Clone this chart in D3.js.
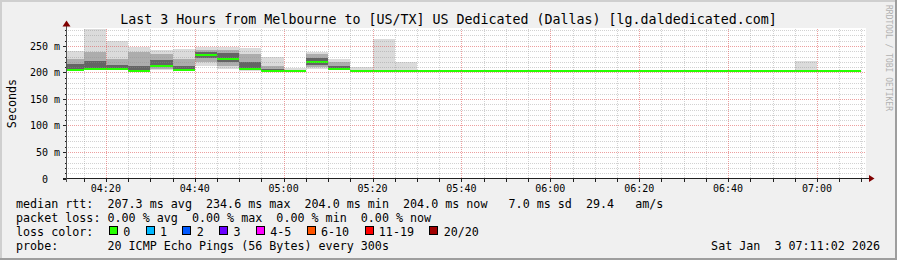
<!DOCTYPE html>
<html><head><meta charset="utf-8">
<script src="https://cdn.jsdelivr.net/npm/d3@7"></script>
<style>
body{margin:0;background:#f0f0f0}
svg{display:block}
text{font-family:"DejaVu Sans Mono",monospace;white-space:pre}
</style>
</head><body>
<svg id="c" width="897" height="260"></svg>
<script>
// ---------- data ----------
const title = "Last 3 Hours from Melbourne to [US/TX] US Dedicated (Dallas) [lg.daldedicated.com]";
const startTime = Date.UTC(2026, 0, 3, 4, 11, 2);
const endTime   = Date.UTC(2026, 0, 3, 7, 11, 2);
const firstColumnEnd = Date.UTC(2026, 0, 3, 4, 15, 0);
const stepSeconds = 300;
const F = 204; // flat ping value after 05:30
// ping ranks (of 20 sorted pings per 5-minute step), in ms
const pingMin = [203,204,205,204,204,204,212,206,203,202.5,203,206,204,203,203,203, F-0.2,F-0.2,F-0.2,F-0.2,F-0.2,F-0.2,F-0.2,F-0.2,F-0.2,F-0.2,F-0.2,F-0.2,F-0.2,F-0.2,F-0.2,F-0.2,F-0.2,F-0.2,F-0.2,F-0.2];
const ping3   = [204.5,205.5,206,204.5,206,205,220,212,205,203,203.5,210,205,203.5,203.5,203.5, F,F,F,F,F,F,F,F,F,F,F,F,F,F,F,F,F,F,F,F];
const ping7   = [206,207,207,205,210,206,228,220,207,203.5,204,215,206,204,204,204, F,F,F,F,F,F,F,F,F,F,F,F,F,F,F,F,F,F,F,F];
const median  = [207,208.5,208.5,205.3,215,207,234.6,228,209,204,204,221,208,204,204,204, F,F,F,F,F,F,F,F,F,F,F,F,F,F,F,F,F,F,F,F];
const ping14  = [216,222,214,213,224,212,238,236,220,207,204.5,228,213,204.5,204.5,204.5, F,F,F,F,F,F,F,F,F,F,F,F,F,F,F,F,F,F,F,F];
const ping18  = [226,238,226,238,235,226,243,242,235,213,205,234,219,205.5,205,205, F,F,F,F,F,F,F,F,F,F,F,F,F,F,F,F,F,F,F,F];
const pingMax = [240,283,260,248,243,244,249,248,247,229,209,239,226,210,263,219, 205,205,205,205,205,205,205,205,205,205,205,205,205,205,205,205,205,221,205,205];

const yMajorStep = 50, yMinorStep = 10;
const xMajorMinutes = 20, xMinorMinutes = 5;

const legendMedian = "median rtt:  207.3 ms avg  234.6 ms max  204.0 ms min  204.0 ms now   7.0 ms sd  29.4   am/s";
const legendLoss   = "packet loss: 0.00 % avg  0.00 % max  0.00 % min  0.00 % now";
const legendColorTitle = "loss color:";
const lossLabels = ["0","1","2","3","4-5","6-10","11-19","20/20"];
const lossColors = ["#26ff00","#00b8ff","#0059ff","#6a00ff","#ff00ff","#ff5500","#ff0000","#a00000"];
const legendProbe  = "probe:       20 ICMP Echo Pings (56 Bytes) every 300s";
const dateText = "Sat Jan  3 07:11:02 2026";
const yLabel = "Seconds";
const watermark = "RRDTOOL / TOBI OETIKER";

// ---------- drawing ----------
const W = 897, H = 260;
const P = {l: 66, r: 866, t: 28.5, b: 178.5};
const svg = d3.select("#c");

const x = d3.scaleUtc().domain([startTime, endTime]).range([P.l, P.r]);
const y = d3.scaleLinear().domain([0, d3.max(pingMax)]).range([P.b, P.t]);

svg.append("rect").attr("width", W).attr("height", H).attr("fill", "#f0f0f0");
svg.append("rect").attr("x", 0).attr("y", 0).attr("width", W).attr("height", 2).attr("fill", "#cfcfcf");
svg.append("rect").attr("x", 0).attr("y", 0).attr("width", 2).attr("height", H).attr("fill", "#cfcfcf");
svg.append("rect").attr("x", 0).attr("y", H - 2).attr("width", W).attr("height", 2).attr("fill", "#9e9e9e");
svg.append("rect").attr("x", W - 2).attr("y", 0).attr("width", 2).attr("height", H).attr("fill", "#9e9e9e");

// canvas
svg.append("rect").attr("x", P.l).attr("y", Math.floor(P.t))
  .attr("width", P.r - P.l).attr("height", Math.floor(P.b) - Math.floor(P.t)).attr("fill", "#ffffff");

// columns
const cols = median.map((m, i) => {
  const e = firstColumnEnd + i * stepSeconds * 1000;
  return {i, b: Math.max(startTime, e - stepSeconds * 1000), e};
});
const gData = svg.append("g").attr("shape-rendering", "crispEdges");
const bands = [
  [pingMin, pingMax, "#dbdbdb"],
  [ping3, ping18, "#adadad"],
  [ping7, ping14, "#646464"]
];
bands.forEach(([lo, hi, c]) => {
  gData.append("g").selectAll("rect").data(cols.filter(d => hi[d.i] - lo[d.i] > 0.3)).join("rect")
    .attr("x", d => Math.round(x(d.b)))
    .attr("width", d => Math.round(x(d.e)) - Math.round(x(d.b)))
    .attr("y", d => Math.round(y(hi[d.i])))
    .attr("height", d => Math.max(1, Math.round(y(lo[d.i])) - Math.round(y(hi[d.i]))))
    .attr("fill", c);
});
// median line (loss color 0)
gData.append("g").selectAll("rect").data(cols).join("rect")
  .attr("x", d => Math.round(x(d.b)))
  .attr("width", d => Math.round(x(d.e)) - Math.round(x(d.b)))
  .attr("y", d => Math.round(y(median[d.i])))
  .attr("height", 2)
  .attr("fill", lossColors[0]);

// grid (on top, like rrdtool)
const gGrid = svg.append("g").attr("shape-rendering", "crispEdges").attr("stroke-dasharray", "1,1");
const yMax = d3.max(pingMax);
const minorCol = "rgba(143,143,143,0.4)", majorCol = "rgba(222,80,80,0.55)";
d3.range(yMinorStep, yMax, yMinorStep).forEach(v => {
  const major = v % yMajorStep === 0;
  const yy = Math.round(y(v)) + 0.5;
  gGrid.append("line").attr("x1", P.l).attr("x2", P.r).attr("y1", yy).attr("y2", yy)
    .attr("stroke", major ? majorCol : minorCol);
});
d3.utcMinute.every(xMinorMinutes).range(new Date(startTime), new Date(endTime)).forEach(t => {
  const major = t.getUTCMinutes() % xMajorMinutes === 0;
  const xx = Math.round(x(t)) + 0.5;
  gGrid.append("line").attr("x1", xx).attr("x2", xx).attr("y1", P.t).attr("y2", P.b - 0.5)
    .attr("stroke", major ? majorCol : minorCol);
});

// axes
const gAx = svg.append("g").attr("shape-rendering", "crispEdges").attr("stroke", "#202020");
gAx.append("line").attr("x1", 63).attr("x2", 869).attr("y1", 178.5).attr("y2", 178.5);
gAx.append("line").attr("x1", 66.5).attr("x2", 66.5).attr("y1", 181.5).attr("y2", 26).attr("stroke", "#505050");
d3.utcMinute.every(xMinorMinutes).range(new Date(startTime), new Date(endTime)).forEach(t => {
  const xx = Math.round(x(t)) + 0.5;
  gAx.append("line").attr("x1", xx).attr("x2", xx).attr("y1", 178).attr("y2", 181.5);
});
d3.range(0, yMax, yMinorStep).forEach(v => {
  const yy = Math.round(y(v)) + 0.5;
  const major = v % yMajorStep === 0;
  gAx.append("line").attr("x1", major ? 63 : 64.5).attr("x2", 66).attr("y1", yy).attr("y2", yy);
});
svg.append("path").attr("d", "M62.5,26.5 L70.5,26.5 L66.5,20.5 Z").attr("fill", "#800000");
svg.append("path").attr("d", "M869,175 L869,182 L874.5,178.5 Z").attr("fill", "#800000");

// tick labels
d3.range(0, yMax, yMajorStep).forEach(v => {
  svg.append("text").attr("x", 60).attr("y", Math.round(y(v)) + 4)
    .attr("text-anchor", "end").attr("font-size", "10px").attr("fill", "#000")
    .attr("xml:space", "preserve")
    .text(v === 0 ? "0  " : v + " m");
});
const fmt = d3.utcFormat("%H:%M");
d3.utcMinute.every(xMajorMinutes).range(new Date(startTime), new Date(endTime)).forEach(t => {
  svg.append("text").attr("x", x(t)).attr("y", 191.5)
    .attr("text-anchor", "middle").attr("font-size", "10px").attr("fill", "#000")
    .text(fmt(t));
});

// title, unit, watermark
svg.append("text").attr("x", 448.5).attr("y", 23.5).attr("text-anchor", "middle")
  .attr("font-size", "13.3px").attr("fill", "#000").text(title);
svg.append("text").attr("transform", "translate(15.5,103.5) rotate(-90)").attr("text-anchor", "middle")
  .attr("font-size", "11.7px").attr("fill", "#000").text(yLabel);
svg.append("text").attr("transform", "translate(885.5,5) rotate(90)").attr("text-anchor", "start")
  .attr("font-size", "8px").attr("fill", "#b0b0b0").text(watermark);

// legend
const LX = 16, LF = "11.7px", CW = 7.03;
const leg = (s, yy, xx = LX, anchor = "start") => svg.append("text").attr("x", xx).attr("y", yy)
  .attr("font-size", LF).attr("fill", "#000").attr("text-anchor", anchor)
  .attr("xml:space", "preserve").text(s);
leg(legendMedian, 208);
leg(legendLoss, 222);
leg(legendColorTitle, 236);
leg(legendProbe, 250);
leg(dateText, 250, 880, "end");

let sx = 109;
lossLabels.forEach((lab, i) => {
  svg.append("rect").attr("x", sx + 0.5).attr("y", 226.5).attr("width", 8).attr("height", 8)
    .attr("fill", lossColors[i]).attr("stroke", "#000").attr("stroke-width", 1)
    .attr("shape-rendering", "crispEdges");
  leg(lab, 236, sx + 14.3);
  sx += 14.3 + lab.length * CW + 15.4;
});
</script>
</body></html>
